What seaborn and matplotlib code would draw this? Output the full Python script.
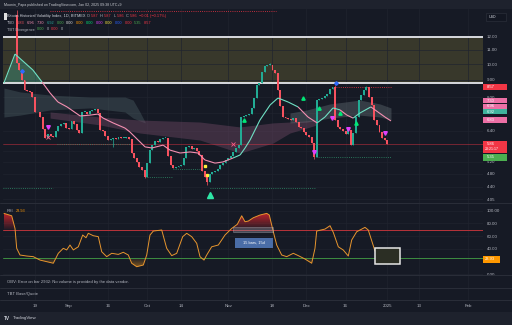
import numpy as np
import pandas as pd
import matplotlib
matplotlib.use("Agg")
import matplotlib.pyplot as plt
import matplotlib.dates as mdates
from matplotlib.collections import LineCollection
from matplotlib.offsetbox import TextArea, HPacker, AnnotationBbox
from matplotlib.patches import Rectangle
from matplotlib.lines import Line2D
from matplotlib.path import Path
from matplotlib.ticker import NullLocator
import seaborn as sns

# ---------------- data ----------------
start_date = "2024-08-12"
first_open = 13.90
closes = [10.07, 9.61, 8.99, 8.41, 8.35, 8.30, 8.02, 7.26, 7.24, 7.02,
          6.48, 6.10, 6.27, 6.18, 6.14, 6.39, 6.61, 6.70, 6.75, 6.52,
          6.50, 6.84, 6.70, 6.44, 6.31, 7.26, 7.28, 7.16, 7.31, 7.36,
          7.41, 7.21, 6.44, 6.39, 6.18, 6.02, 6.06, 6.10, 6.08, 6.14,
          6.10, 6.11, 6.14, 6.06, 5.52, 5.34, 5.20, 5.03, 4.93, 4.70,
          5.16, 5.63, 5.82, 5.98, 5.94, 6.06, 6.10, 6.12, 5.41, 5.10,
          4.99, 5.03, 5.06, 5.10, 5.34, 5.75, 5.77, 5.67, 5.69, 5.60,
          5.45, 4.90, 4.70, 4.55, 4.80, 4.86, 4.90, 4.96, 5.10, 5.16,
          5.27, 5.34, 5.41, 5.56, 5.71, 5.82, 7.02, 7.05, 7.11, 7.16,
          7.46, 7.97, 8.69, 8.81, 9.48, 9.87, 9.93, 9.95, 9.61, 9.42,
          8.41, 7.56, 7.02, 6.97, 6.93, 6.88, 6.97, 6.79, 6.57, 6.52,
          6.35, 6.23, 6.14, 5.90, 5.38, 7.86, 7.92, 7.97, 8.08, 8.19,
          8.47, 8.58, 6.88, 6.57, 6.48, 6.39, 6.27, 6.44, 5.82, 6.31,
          7.02, 7.86, 8.13, 8.41, 8.58, 8.02, 7.61, 6.88, 6.66, 6.35,
          6.10, 6.02, 5.86]
wick_high_bar = [1, 98, 123, 135]
wick_high_val = [14.35, 10.07, 8.69, 8.64]
wick_low_bar = [38, 50, 74, 115]
wick_low_val = [5.75, 4.66, 4.46, 5.30]

# moving average (sampled, day offset from start_date)
ma_day = [-4.9, -0.65, 6.2, 9.7, 12.8, 15.8, 19.3, 24.3, 28.1, 31.1, 33.1, 36.9,
          41.5, 43.4, 46.5, 49.2, 51.8, 56.1, 58.7, 62.6, 66.4, 69.5, 72.1, 76.0,
          79.0, 82.9, 85.6, 87.5, 89.4, 93.2, 97.1, 100.1, 104.0, 107.8, 111.6,
          115.1, 118.1, 121.2, 123.9, 126.5, 128.9, 131.5, 135.7, 138.4, 141.1, 143.4]
ma_val = [8.81, 10.69, 9.61, 8.87, 8.24, 7.76, 7.51, 7.07, 7.11, 7.16, 6.97, 6.75,
          6.52, 6.35, 6.02, 5.75, 5.71, 5.82, 5.63, 5.52, 5.56, 5.52, 5.27, 5.16,
          5.20, 5.34, 5.45, 5.71, 6.02, 6.88, 7.61, 7.97, 7.76, 7.51, 7.02,
          6.75, 7.02, 7.46, 7.36, 7.11, 6.97, 7.21, 7.51, 7.26, 7.02, 6.84]

# clouds
bandA_day = [-4.9, 1.3, 12.8, 28.1, 41.5, 44.6, 47.2, 49.2]
bandA_hi = [8.52, 8.30, 8.13, 8.02, 8.02, 7.86, 7.26, 6.79]
bandA_lo = [7.02, 7.11, 7.36, 7.46, 7.26, 6.97, 6.84, 6.75]
bandB_day = [12.8, 31.9, 47.2, 70.2, 85.6, 98.2, 104.7, 115.1]
bandB_hi = [7.26, 7.02, 6.88, 6.79, 6.57, 6.75, 6.79, 6.88]
bandB_lo = [6.97, 6.66, 6.31, 6.02, 5.52, 5.90, 6.31, 6.66]
bandC_day = [104.7, 111.2, 120.0, 131.5, 139.2, 143.4]
bandC_hi = [7.21, 7.36, 7.66, 7.86, 7.66, 7.46]
bandC_lo = [6.75, 6.79, 6.97, 7.11, 7.02, 6.88]

box_top, box_bottom = 12.00, 8.80
last_price = 5.86

dot_start = [-5.25, 74.1, 15.4, 49.2, 59.9, 114.7, 122.3, 12.8]
dot_end = [13.9, 114.7, 43.4, 59.9, 70.2, 143.4, 143.4, 99.3]
dot_level = [4.38, 4.38, 5.85, 4.70, 4.96, 5.37, 8.57, 14.25]
dot_kind = ["g", "g", "g", "g", "g", "g", "r", "r"]

mk_tri_dn_day = [12.1, 114.0, 120.7, 127.0, 141.1]
mk_tri_dn_val = [6.56, 5.57, 6.96, 6.48, 6.33]
mk_tri_up_day = [87.1, 109.8, 115.9, 123.9, 130.0]
mk_tri_up_val = [6.88, 7.95, 7.44, 7.23, 6.73]
mk_yellow_day = [72.1, 73.0]
mk_yellow_val = [5.06, 4.77]
mk_blue_day = [2.1, 122.2]
mk_blue_val = [9.54, 8.83]
mk_big_up_day, mk_big_up_val = 74.1, 4.17
mk_x_day = [12.1, 83.0]
mk_x_val = [6.14, 5.85]

# RSI
rsi_day = [-4.87, -1.92, -0.65, 0.0, 1.26, 3.83, 6.36, 8.93, 11.49, 14.02, 15.94, 17.85,
           19.16, 20.42, 21.69, 23.6, 25.29, 26.55, 27.43, 29.35, 31.26, 32.57, 34.48,
           36.4, 38.93, 40.84, 42.76, 44.06, 45.98, 48.51, 49.81, 51.07, 52.34, 55.56,
           57.47, 59.39, 61.3, 63.6, 65.13, 67.05, 68.97, 70.23, 71.76, 72.8, 74.71,
           77.24, 79.81, 82.38, 84.52, 86.21, 87.47, 88.74, 90.65, 93.22, 95.79, 96.78,
           98.31, 99.62, 101.53, 103.45, 105.98, 107.89, 110.46, 113.03, 114.29, 114.94,
           118.12, 120.04, 121.3, 123.22, 125.13, 127.05, 128.35, 130.27, 133.45, 134.71,
           137.28, 139.2, 142.38]
rsi_val = [95.8, 92, 72, 40.6, 30, 28.4, 27.4, 22, 19.5, 17, 32.7, 40.6, 38, 45.8, 38,
           43, 61.6, 57.3, 64.3, 60.5, 59, 35.2, 27.4, 32.7, 31, 34.3, 30, 17, 11.5, 14.2,
           30, 61.6, 67.9, 69.5, 40.6, 29, 32.7, 59, 64.3, 59, 48.5, 27.4, 22, 30, 43,
           45.8, 61.6, 72, 78.5, 92, 82.6, 83.7, 88.9, 93.2, 95.8, 93.2, 66.8, 45.8, 30,
           27.4, 32.7, 29, 23.7, 17, 40.6, 67.9, 71, 76.3, 65.8, 43, 37.9, 28.4, 53.7,
           66.8, 73.7, 69.5, 36.3, 30, 23.93]
rsi_upper, rsi_lower = 70, 25

price_ticks = [12.0, 11.0, 10.0, 9.0, 8.0, 7.2, 6.4, 5.6, 5.2, 4.8, 4.4, 4.05]
hidden_ticks = [7.2, 5.6]          # covered by value labels in the reference
rsi_ticks = [0, 40, 60, 80, 100]
tick_dates = ["2024-08-19", "2024-09-01", "2024-09-16", "2024-10-01", "2024-10-14",
              "2024-11-01", "2024-11-18", "2024-12-01", "2024-12-16", "2025-01-01",
              "2025-01-13", "2025-02-01"]
tick_labels = ["19", "Sep", "16", "Oct", "14", "Nov", "18", "Dec", "16", "2025", "13", "Feb"]

# ---------------- style ----------------
sns.set_theme(style="dark")
plt.rcParams['font.family'] = ['Liberation Sans', 'DejaVu Sans']

W, H = 512, 325
BG = '#161a25'
STRIP = '#1e222d'
GRID = '#20242f'
SEP = '#2a2e39'
TXT = '#b2b5be'
UP = '#22ab94'
DN = '#f7525f'
TEAL = '#6fe0c4'
PINK = '#f48fb1'

fig = plt.figure(figsize=(W / 100, H / 100), dpi=100, facecolor=BG)


def add_ax(x0, y0, x1, y1, **kw):
    a = fig.add_axes([x0 / W, 1 - y1 / H, (x1 - x0) / W, (y1 - y0) / H], **kw)
    a.set_facecolor(BG)
    for s in a.spines.values():
        s.set_visible(False)
    return a


def fbox(x0, y0, x1, y1, fc, ec='none', lw=0, z=5):
    fig.add_artist(Rectangle((x0 / W, 1 - y1 / H), (x1 - x0) / W, (y1 - y0) / H,
                             transform=fig.transFigure, fc=fc, ec=ec, lw=lw, zorder=z))


def ftext(x, y, s, size, color, ha='left', va='center', **kw):
    fig.text(x / W, 1 - y / H, s, size=size, color=color, ha=ha, va=va, zorder=7, **kw)


def fline(y, x0=0, x1=W, color=SEP, lw=0.7):
    fig.add_artist(Line2D([x0 / W, x1 / W], [1 - y / H, 1 - y / H], transform=fig.transFigure,
                          color=color, lw=lw, zorder=3))


def colored(x, y, parts, size, sep=1.2):
    kids = [TextArea(t, textprops=dict(color=c, size=size)) for t, c in parts]
    pack = HPacker(children=kids, align='baseline', pad=0, sep=sep)
    ab = AnnotationBbox(pack, (x / W, 1 - y / H), xycoords='figure fraction',
                        box_alignment=(0, 0.5), frameon=False, pad=0, zorder=7)
    fig.add_artist(ab)


# strips
fbox(0, 0, W, 9, STRIP, z=-1)
fbox(0, 312, W, H, STRIP, z=-1)

ax = add_ax(3, 9, 483, 203)
axr = add_ax(3, 203, 483, 275, sharex=ax)
axo = add_ax(3, 275, 483, 288, sharex=ax)
axt = add_ax(3, 288, 483, 300, sharex=ax)

d0 = mdates.date2num(pd.Timestamp(start_date))
dates = pd.date_range(start_date, periods=len(closes), freq='D')
xd = mdates.date2num(dates)
c = np.array(closes)
o = np.r_[first_open, c[:-1]]
hi = np.maximum(o, c)
lo = np.minimum(o, c)
for b, v in zip(wick_high_bar, wick_high_val):
    hi[b - 1] = max(hi[b - 1], v)
for b, v in zip(wick_low_bar, wick_low_val):
    lo[b - 1] = min(lo[b - 1], v)
cols = np.where(c >= o, UP, DN)

ax.set_yscale('log')
XL = (d0 - 5.25, d0 + 178.66)
YL = (3.954, 14.44)

# box
ax.axhspan(box_bottom, box_top, fc='#38382b', ec='none', zorder=0.5)
ax.axhline(box_top, color='#d8dadf', lw=1.4, zorder=2)
ax.axhline(box_bottom, color='#d8dadf', lw=1.4, zorder=2)

# clouds
ax.fill_between(d0 + np.array(bandA_day), bandA_lo, bandA_hi, color='#5f7a7c', alpha=0.30, lw=0, zorder=1)
ax.fill_between(d0 + np.array(bandB_day), bandB_lo, bandB_hi, color='#6e4763', alpha=0.45, lw=0, zorder=1)
ax.fill_between(d0 + np.array(bandC_day), bandC_lo, bandC_hi, color='#7f8b90', alpha=0.30, lw=0, zorder=1)
mx = d0 + np.array(ma_day)
mv = np.array(ma_val)
ax.fill_between(mx, mv, box_bottom, where=mv >= box_bottom, interpolate=True,
                color='#3fae98', alpha=0.35, lw=0, zorder=1.2)

# price line
ax.axhline(last_price, color='#f23645', lw=0.5, alpha=0.6, zorder=1.5)

# dotted levels
for s, e, lv, k in zip(dot_start, dot_end, dot_level, dot_kind):
    ax.plot([d0 + s, d0 + e], [lv, lv], ls=(0, (1, 1.6)), lw=0.6,
            color='#2f8f6a' if k == 'g' else '#f23645', zorder=1.6)

# candles
ax.vlines(xd, lo, hi, colors=cols, lw=0.5, zorder=3)
bl = np.minimum(o, c)
bh = np.maximum(np.maximum(o, c), bl * 1.006)
ax.bar(xd, bh - bl, bottom=bl, width=0.74, color=cols, lw=0, zorder=3)

# moving average, coloured segments
ma_teal_spans = [(-10, 9.7), (82.0, 108.5), (115.5, 122.7), (129.6, 136.1)]
pts = np.column_stack([mx, mv])
segs = [[pts[i], pts[i + 1]] for i in range(len(pts) - 1)]
seg_cols = []
for i in range(len(pts) - 1):
    mid = (ma_day[i] + ma_day[i + 1]) / 2
    seg_cols.append(TEAL if any(a <= mid < b for a, b in ma_teal_spans) else PINK)
ax.add_collection(LineCollection(segs, colors=seg_cols, lw=0.8, zorder=4))

# markers
ax.plot(d0 + np.array(mk_tri_dn_day), mk_tri_dn_val, 'v', color='#e040fb', ms=2.6, zorder=5)
ax.plot(d0 + np.array(mk_tri_up_day), mk_tri_up_val, '^', color='#00e676', ms=2.4, zorder=5)
ax.plot(d0 + np.array(mk_yellow_day), mk_yellow_val, 's', color='#ffeb3b', ms=2.0, zorder=5)
ax.plot(d0 + np.array(mk_blue_day), mk_blue_val, 'D', color='#2f6bff', ms=1.8, zorder=5)
ax.plot([d0 + mk_big_up_day], [mk_big_up_val], '^', color='#2ee6a6', ms=5, zorder=5)
ax.plot(d0 + np.array(mk_x_day), mk_x_val, 'x', color='#ff5c8a', ms=2.2, mew=0.6, zorder=5)

# axes formatting (main)
ax.set_xlim(*XL)
ax.set_ylim(*YL)
ax.yaxis.tick_right()
ax.yaxis.set_minor_locator(NullLocator())
ax.set_yticks(price_ticks)
ax.set_yticklabels(["" if t in hidden_ticks else f"{t:.2f}" for t in price_ticks])
tx = mdates.date2num(pd.to_datetime(tick_dates))
for a in (ax, axr, axo, axt):
    a.set_xticks(tx)
    a.tick_params(axis='both', length=0, labelsize=3.2, colors=TXT, pad=2.6)
    a.grid(True, axis='x', color=GRID, lw=0.5)
    a.set_xlabel('')
    a.set_ylabel('')
    a.tick_params(axis='x', labelbottom=False)
ax.grid(True, axis='y', color=GRID, lw=0.5)
axt.tick_params(axis='x', labelbottom=True, pad=3.0)
axt.set_xticklabels(tick_labels)
for a in (axo, axt):
    a.set_yticks([])

# ---------------- RSI ----------------
rx = d0 + np.array(rsi_day)
rv = np.array(rsi_val)
RL = (-1.58, 112.2)


def grad_fill(a, x, y, level, above, rgb, amax, far):
    where = y >= level if above else y <= level
    pc = a.fill_between(x, y, level, where=where, interpolate=True, fc='none', ec='none')
    paths = pc.get_paths()
    if not paths:
        return
    comp = Path.make_compound_path(*paths)
    n = 64
    img = np.zeros((n, 1, 4))
    img[..., :3] = rgb
    img[:, 0, 3] = np.linspace(0.05, amax, n)
    if above:
        ext = [x.min(), x.max(), level, far]
    else:
        img = img[::-1]
        ext = [x.min(), x.max(), far, level]
    im = a.imshow(img, extent=ext, origin='lower', aspect='auto', zorder=1, interpolation='bilinear')
    im.set_clip_path(comp, a.transData)


grad_fill(axr, rx, rv, rsi_upper, True, (0.85, 0.15, 0.18), 0.95, 100)
grad_fill(axr, rx, rv, rsi_lower, False, (0.85, 0.55, 0.12), 0.95, 0)
axr.axhline(rsi_upper, color='#b9333a', lw=0.7, zorder=2)
axr.axhline(rsi_lower, color='#3e8e41', lw=0.7, zorder=2)
sns.lineplot(x=rx, y=rv, ax=axr, color='#e8962e', lw=0.7, zorder=3)

# measure tool + box
axr.add_patch(Rectangle((d0 + 82.95, 66.3), 15.25, 7.9, fc='#9aa0ad', alpha=0.35, ec='#c8ccd4', lw=0.6, zorder=4))
axr.add_patch(Rectangle((d0 + 83.6, 41.1), 14.6, 15.7, fc='#4a6da7', ec='none', zorder=4))
axr.text(d0 + 90.9, 49.0, "15 bars, 15d", color='white', size=2.8, ha='center', va='center', zorder=5)
axr.add_patch(Rectangle((d0 + 137.3, 15.8), 9.6, 25.2, fc='#2b2e24', ec='#e6e6e6', lw=1.1, zorder=4))

axr.set_xlim(*XL)
axr.set_ylim(*RL)
axr.yaxis.tick_right()
axr.set_yticks(rsi_ticks)
axr.set_yticklabels([f"{t:.2f}" for t in rsi_ticks])
axr.grid(True, axis='y', color=GRID, lw=0.5)
axr.set_xlabel('')
axr.set_ylabel('')
axr.tick_params(axis='x', labelbottom=False)

# ---------------- separators / panes ----------------
for y in (203, 275, 288, 300):
    fline(y)

# ---------------- texts ----------------
ftext(4, 5, "Moonin_Papa published on TradingView.com, Jan 02, 2025 09:38 UTC+9", 2.6, '#c8cad0')
red = '#f23645'
colored(7, 16, [("Bitcoin Historical Volatility Index, 1D, BITMEX", '#d1d4dc'),
                ("O", TXT), ("5.87", red), ("H", TXT), ("5.87", red), ("L", TXT), ("5.86", red),
                ("C", TXT), ("5.86", red), ("\u22120.01 (\u22120.17%)", red)], 2.8, sep=1.0)
colored(7, 23, [("TBO", TXT), ("6.83", '#f7525f'), ("6.96", '#f48fb1'), ("7.30", '#f48fb1'),
                ("6.92", '#26a69a'), ("0.00", '#4caf50'), ("0.00", '#e0e0e0'), ("0.00", '#ff9800'),
                ("0.00", '#00e676'), ("0.00", '#e040fb'), ("0.00", '#ffeb3b'), ("0.00", '#2962ff'),
                ("0.00", '#f23645'), ("5.35", '#4caf50'), ("8.57", '#f23645')], 2.8, sep=1.6)
colored(7, 29.5, [("TBT Divergence", TXT), ("0.00", '#4caf50'), ("0", TXT), ("0.00", '#f23645'),
                  ("0", TXT)], 2.8, sep=1.6)
fbox(4, 13, 6.5, 20, '#e0e0e0', z=6)

# USD box
fbox(486, 13, 506, 21, '#131722', ec=SEP, lw=0.5, z=6)
ftext(489, 17, "USD", 2.6, '#d1d4dc')


def pbox(yc, h, s, fc, tc='white'):
    fbox(483, yc - h / 2, 507, yc + h / 2, fc, z=6)
    ftext(487, yc, s, 3.0, tc)


pbox(87.0, 6, "8.57", '#f23645')
pbox(100.8, 5, "7.30", '#ec6fa5')
pbox(106.3, 5, "6.96", '#ec6fa5')
pbox(111.7, 5, "6.92", '#3fb39c')
pbox(120.3, 6, "6.83", '#ec6fa5')
fbox(483, 141, 507, 152.7, '#f23645', z=6)
ftext(487, 144.2, f"{last_price:.2f}", 3.0, 'white')
ftext(485, 149.3, "23:21:17", 2.6, 'white')
pbox(157.3, 6.5, "5.35", '#4caf50')
fbox(483, 255.5, 500, 262.5, '#ff9800', z=6)
ftext(485, 259, f"{rsi_val[-1]:.2f}", 2.9, 'white')

colored(7, 211, [("RSI", TXT), (f"{rsi_val[-1]:.2f}", '#ff9800')], 2.8, sep=1.5)
ftext(7, 281.5, "OBV: Error on bar 2932: No volume is provided by the data vendor.", 3.0, TXT)
ftext(7, 294, "TBT Base/Quote", 3.0, TXT)
ftext(4, 318.5, "TV", 3.4, '#d1d4dc', weight='bold')
ftext(13, 318.5, "TradingView", 3.2, '#d1d4dc')

fig.savefig("out.png", dpi=100, facecolor=BG)
